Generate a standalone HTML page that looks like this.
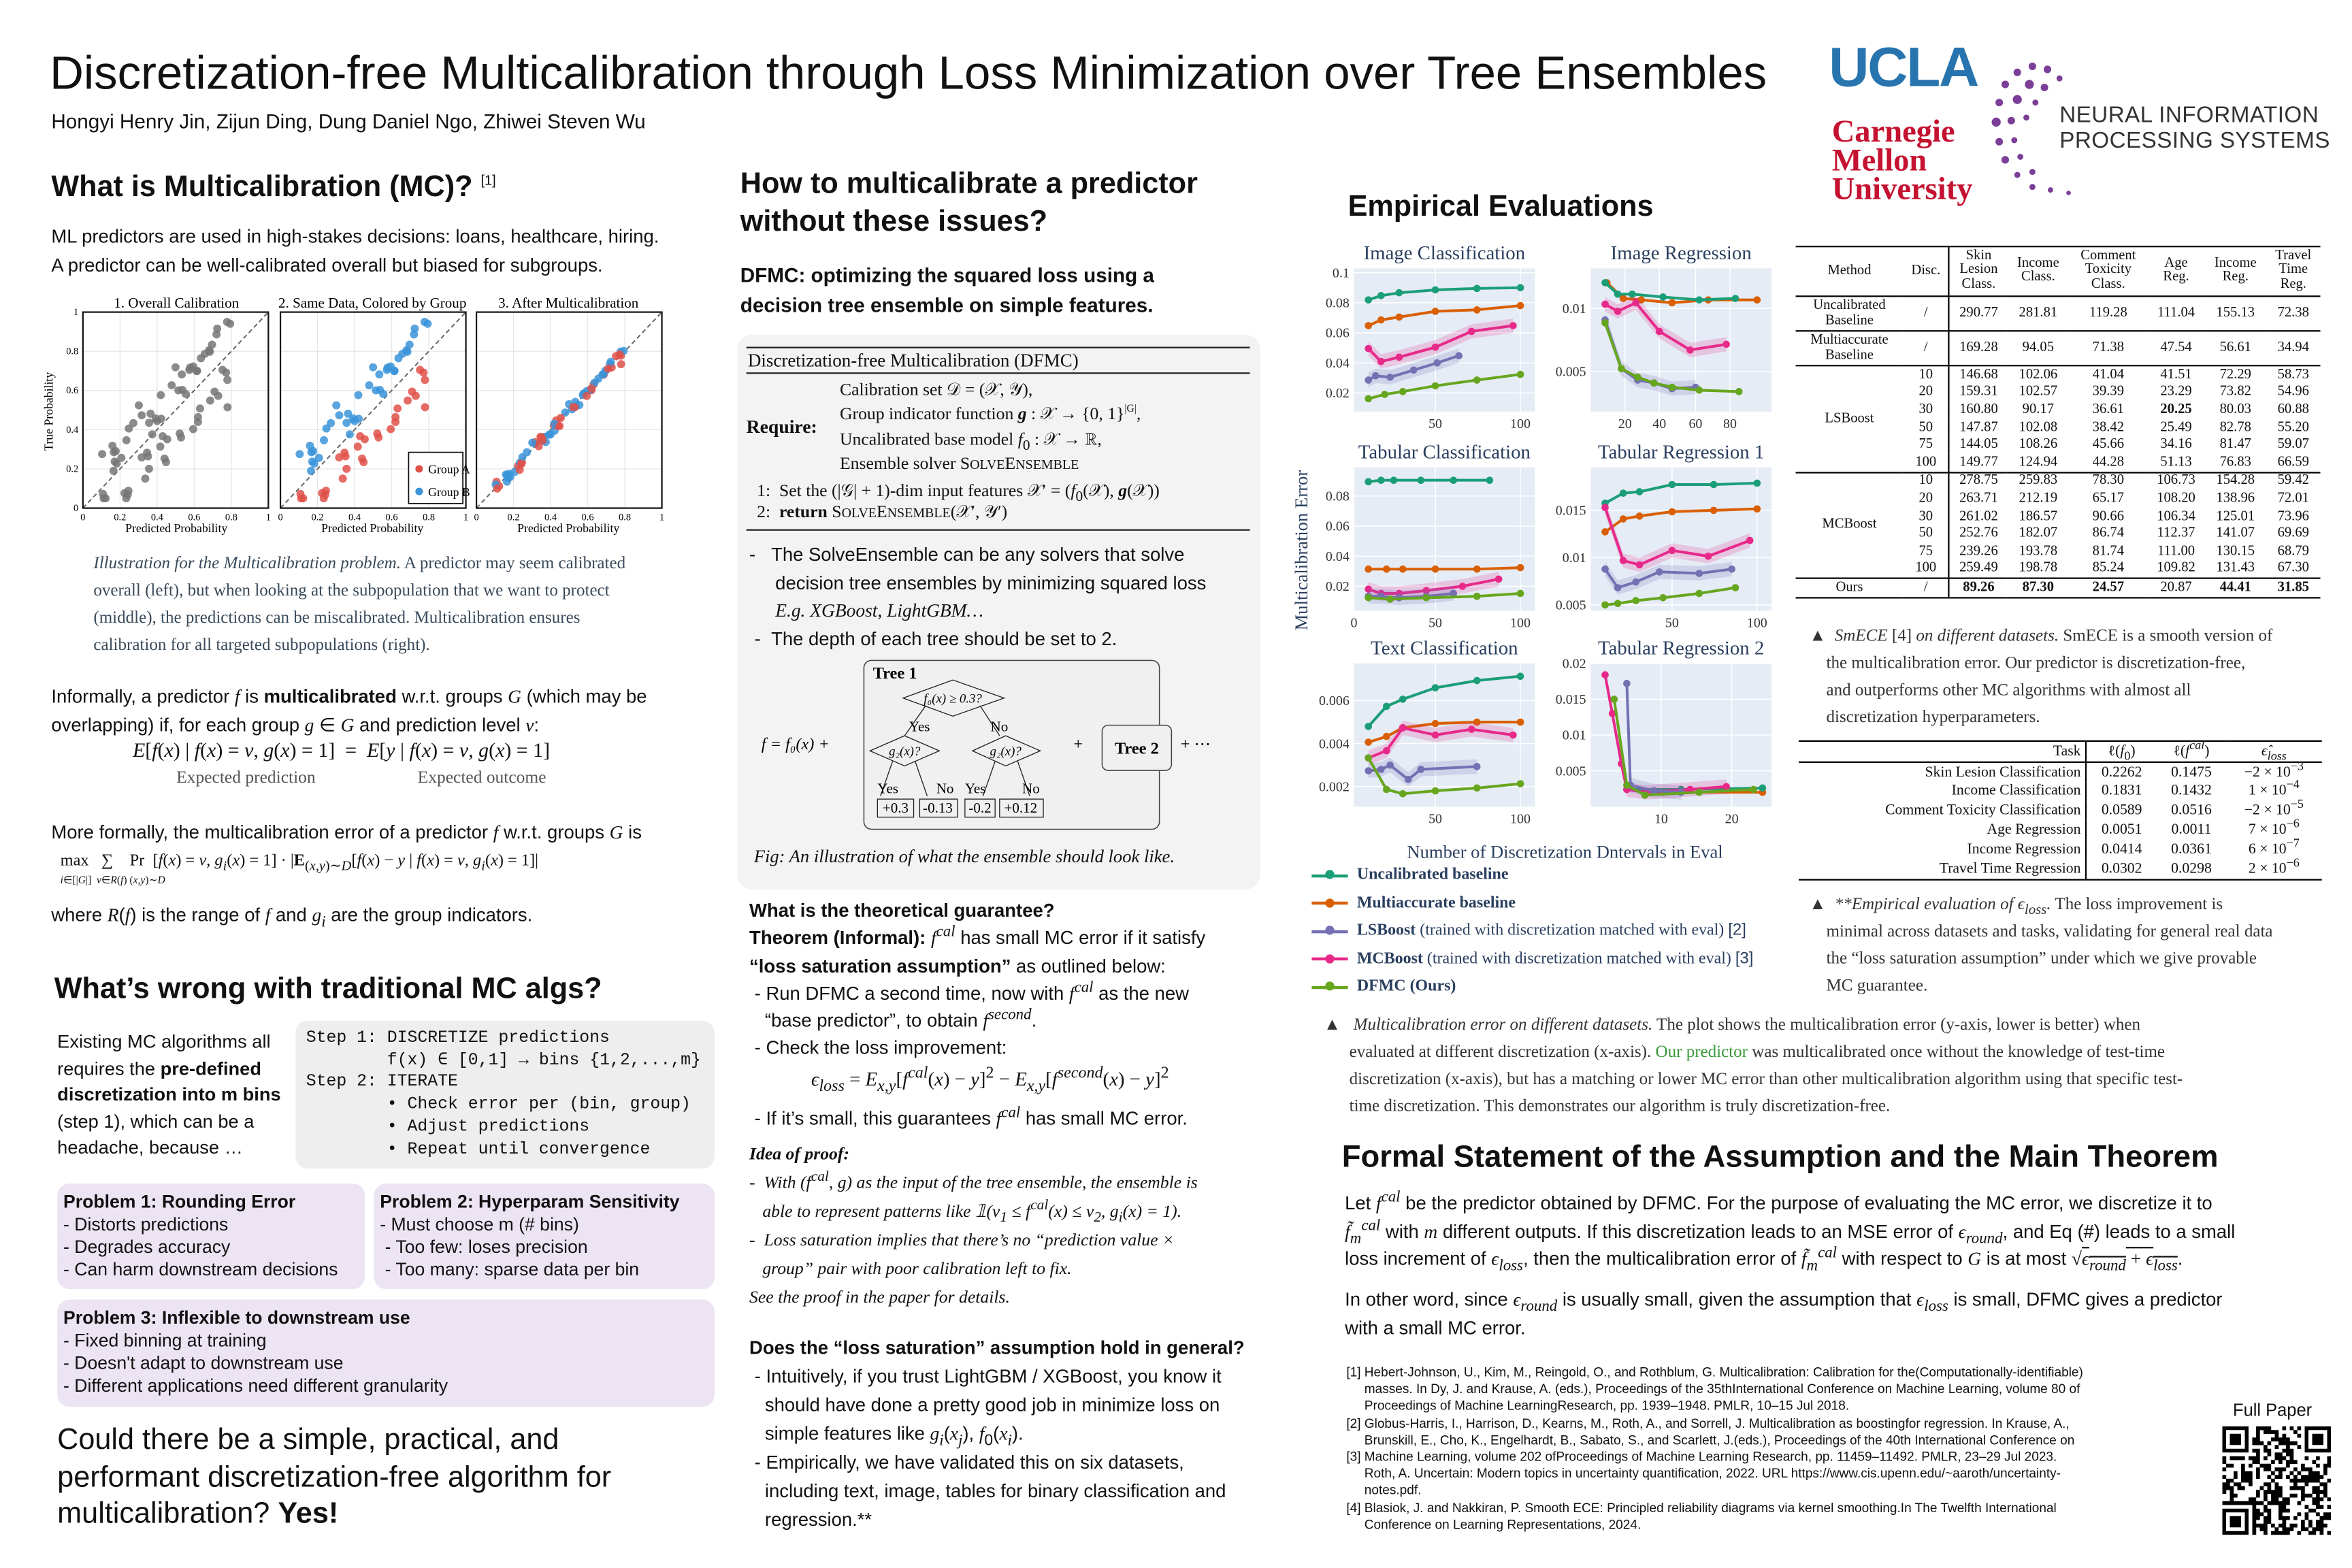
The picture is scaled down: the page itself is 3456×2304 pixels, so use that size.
<!DOCTYPE html>
<html><head><meta charset="utf-8">
<style>
html,body{margin:0;padding:0;background:#fff;}
body{width:3456px;height:2304px;overflow:hidden;}
#p{position:absolute;left:0;top:0;width:1560px;height:1040px;transform:scale(2.2154);transform-origin:0 0;font-family:"Liberation Sans",sans-serif;color:#111;}
.a{position:absolute;}
.s{font-family:"Liberation Serif",serif;}
sup,sub{line-height:0;}
h2{margin:0;font-size:19.5px;font-weight:bold;position:absolute;}
.t{font-size:12.4px;line-height:18.5px;}
.cap{font-family:"Liberation Serif",serif;font-size:11.3px;line-height:18px;color:#3a4a5a;}
.box{position:absolute;background:#ece4f3;border-radius:8px;font-size:12px;line-height:15px;padding:5px 4px;box-sizing:border-box;}
table{border-collapse:collapse;font-family:"Liberation Serif",serif;}
.t1 td{font-size:9.3px;padding:0 2px;height:11.6px;text-align:center;white-space:nowrap;}
.t2 td{font-size:9.8px;padding:0 3px;height:12.8px;white-space:nowrap;}
.ref{font-size:8.6px;line-height:11.2px;}
</style></head><body><div id="p">

<div class="a" style="left:33px;top:31px;font-size:31.1px;">Discretization-free Multicalibration through Loss Minimization over Tree Ensembles</div>
<div class="a" style="left:34px;top:73px;font-size:13.4px;">Hongyi Henry Jin, Zijun Ding, Dung Daniel Ngo, Zhiwei Steven Wu</div>

<!-- logos -->
<div class="a" style="left:1213px;top:24px;font-size:37px;font-weight:bold;color:#2774ae;letter-spacing:-1px;">UCLA</div>
<div class="a s" style="left:1215px;top:78px;font-size:21px;font-weight:bold;color:#c41230;line-height:19px;">Carnegie<br>Mellon<br>University</div>
<svg class="a" style="left:1318px;top:36px" width="60" height="100">
<g fill="#7b3f98">
<circle cx="30" cy="8" r="2.5"/><circle cx="40" cy="10" r="2.5"/><circle cx="20" cy="12" r="2.5"/><circle cx="48" cy="16" r="2"/><circle cx="12" cy="20" r="2.5"/><circle cx="28" cy="20" r="3"/><circle cx="38" cy="22" r="2.5"/><circle cx="8" cy="32" r="2.5"/><circle cx="20" cy="30" r="3"/><circle cx="32" cy="32" r="2"/><circle cx="6" cy="45" r="3"/><circle cx="16" cy="44" r="2.5"/><circle cx="26" cy="42" r="2"/><circle cx="8" cy="58" r="2.5"/><circle cx="18" cy="57" r="2"/><circle cx="12" cy="70" r="2.5"/><circle cx="22" cy="68" r="2"/><circle cx="20" cy="80" r="2"/><circle cx="30" cy="78" r="2"/><circle cx="30" cy="88" r="2"/><circle cx="42" cy="90" r="1.8"/><circle cx="54" cy="92" r="1.5"/>
</g></svg>
<div class="a" style="left:1366px;top:68px;font-size:15px;line-height:17px;color:#333;letter-spacing:0.2px;">NEURAL INFORMATION<br>PROCESSING SYSTEMS</div>

<!-- ===== Column 1 ===== -->
<h2 style="left:34px;top:113px;">What is Multicalibration (MC)? <sup style="font-size:9px;font-weight:normal">[1]</sup></h2>
<div class="a t" style="left:34px;top:148px;width:450px;">ML predictors are used in high-stakes decisions: loans, healthcare, hiring.<br>A predictor can be well-calibrated overall but biased for subgroups.</div>

<svg class="a" style="left:25px;top:193px" width="445" height="165" id="sc" font-family="Liberation Serif, serif">
<g font-size="9.5" text-anchor="middle">
<text x="92" y="11">1. Overall Calibration</text>
<text x="222" y="11">2. Same Data, Colored by Group</text>
<text x="352" y="11">3. After Multicalibration</text>
<text x="92" y="160" font-size="8">Predicted Probability</text>
<text x="222" y="160" font-size="8">Predicted Probability</text>
<text x="352" y="160" font-size="8">Predicted Probability</text>
<text transform="translate(10,80) rotate(-90)" font-size="8">True Probability</text>
</g>
</svg>

<div class="a cap" style="left:62px;top:365px;width:365px;"><i>Illustration for the Multicalibration problem.</i> A predictor may seem calibrated overall (left), but when looking at the subpopulation that we want to protect (middle), the predictions can be miscalibrated. Multicalibration ensures calibration for all targeted subpopulations (right).</div>

<div class="a t" style="left:34px;top:453px;width:440px;">Informally, a predictor <i class="s">f</i> is <b>multicalibrated</b> w.r.t. groups <i class="s">G</i> (which may be overlapping) if, for each group <i class="s">g</i> ∈ <i class="s">G</i> and prediction level <i class="s">v</i>:</div>
<div class="a s" style="left:88px;top:490px;font-size:13.5px;"><i>E</i>[<i>f</i>(<i>x</i>) | <i>f</i>(<i>x</i>) = <i>v</i>, <i>g</i>(<i>x</i>) = 1] &nbsp;= &nbsp;<i>E</i>[<i>y</i> | <i>f</i>(<i>x</i>) = <i>v</i>, <i>g</i>(<i>x</i>) = 1]</div>
<div class="a s" style="left:117px;top:510px;font-size:11.5px;color:#555;">Expected prediction</div>
<div class="a s" style="left:277px;top:510px;font-size:11.5px;color:#555;">Expected outcome</div>
<div class="a t" style="left:34px;top:543px;">More formally, the multicalibration error of a predictor <i class="s">f</i> w.r.t. groups <i class="s">G</i> is</div>
<div class="a s" style="left:40px;top:565px;font-size:11px;">max &nbsp;&nbsp;∑ &nbsp;&nbsp; Pr &nbsp;[<i>f</i>(<i>x</i>) = <i>v</i>, <i>g<sub>i</sub></i>(<i>x</i>) = 1] · |<b>E</b><sub>(<i>x,y</i>)∼<i>D</i></sub>[<i>f</i>(<i>x</i>) − <i>y</i> | <i>f</i>(<i>x</i>) = <i>v</i>, <i>g<sub>i</sub></i>(<i>x</i>) = 1]|</div>
<div class="a s" style="left:40px;top:580px;font-size:7px;"><i>i</i>∈[|<i>G</i>|] &nbsp;<i>v</i>∈<i>R</i>(<i>f</i>) (<i>x,y</i>)∼<i>D</i></div>
<div class="a t" style="left:34px;top:598px;">where <i class="s">R</i>(<i class="s">f</i>) is the range of <i class="s">f</i> and <i class="s">g<sub>i</sub></i> are the group indicators.</div>

<h2 style="left:36px;top:645px;">What’s wrong with traditional MC algs?</h2>
<div class="a" style="left:38px;top:683px;font-size:12.3px;line-height:17.5px;width:155px;">Existing MC algorithms all requires the <b>pre-defined discretization into m bins</b> (step 1), which can be a headache, because …</div>
<div class="a" style="left:196px;top:677px;width:278px;height:98px;background:#eeeeee;border-radius:8px;"></div>
<pre class="a" style="left:203px;top:682px;margin:0;font-family:'Liberation Mono',monospace;font-size:11.2px;line-height:14.7px;">Step 1: DISCRETIZE predictions
        f(x) ∈ [0,1] → bins {1,2,...,m}
Step 2: ITERATE
        • Check error per (bin, group)
        • Adjust predictions
        • Repeat until convergence</pre>
<div class="box" style="left:38px;top:785px;width:204px;height:70px;"><b>Problem 1: Rounding Error</b><br>- Distorts predictions<br>- Degrades accuracy<br>- Can harm downstream decisions</div>
<div class="box" style="left:248px;top:785px;width:226px;height:70px;"><b>Problem 2: Hyperparam Sensitivity</b><br>- Must choose m (# bins)<br>&nbsp;- Too few: loses precision<br>&nbsp;- Too many: sparse data per bin</div>
<div class="box" style="left:38px;top:862px;width:436px;height:71px;"><b>Problem 3: Inflexible to downstream use</b><br>- Fixed binning at training<br>- Doesn't adapt to downstream use<br>- Different applications need different granularity</div>
<div class="a" style="left:38px;top:943px;font-size:19.5px;line-height:24.5px;width:460px;">Could there be a simple, practical, and<br>performant discretization-free algorithm for<br>multicalibration? <b>Yes!</b></div>

<!-- ===== Column 2 ===== -->
<h2 style="left:491px;top:110px;line-height:25px;">How to multicalibrate a predictor<br>without these issues?</h2>
<div class="a" style="left:491px;top:173px;font-size:13.4px;line-height:20px;font-weight:bold;">DFMC: optimizing the squared loss using a<br>decision tree ensemble on simple features.</div>
<div class="a" style="left:489px;top:222px;width:347px;height:368px;background:#f3f3f3;border-radius:10px;"></div>
<div class="a" style="left:495px;top:230px;width:334px;border-top:1.2px solid #222;border-bottom:0.8px solid #222;height:16px;"></div>
<div class="a s" style="left:496px;top:232px;font-size:12.2px;">Discretization-free Multicalibration (DFMC)</div>
<div class="a s" style="left:495px;top:276px;font-size:12.5px;font-weight:bold;">Require:</div>
<div class="a s" style="left:557px;top:251px;font-size:11.6px;line-height:16.3px;">Calibration set 𝒟 = (𝒳, 𝒴),<br>Group indicator function <b><i>g</i></b> : 𝒳 → {0, 1}<sup style="font-size:7px">|G|</sup>,<br>Uncalibrated base model <i>f</i><sub>0</sub> : 𝒳 → ℝ,<br>Ensemble solver S<span style="font-size:9px">OLVE</span>E<span style="font-size:9px">NSEMBLE</span></div>
<div class="a s" style="left:502px;top:319px;font-size:11.6px;line-height:14px;">1: &nbsp;Set the (|𝒢| + 1)-dim input features 𝒳′ = (<i>f</i><sub>0</sub>(𝒳), <b><i>g</i></b>(𝒳))<br>2: &nbsp;<b>return</b> S<span style="font-size:9px">OLVE</span>E<span style="font-size:9px">NSEMBLE</span>(𝒳′, 𝒴′)</div>
<div class="a" style="left:495px;top:351px;width:334px;border-top:0.8px solid #222;"></div>
<div class="a" style="left:497px;top:359px;font-size:12.4px;line-height:18.5px;width:330px;">-&nbsp;&nbsp;&nbsp;The SolveEnsemble can be any solvers that solve<br>&nbsp;&nbsp;&nbsp;&nbsp;&nbsp;decision tree ensembles by minimizing squared loss<br>&nbsp;&nbsp;&nbsp;&nbsp;&nbsp;<i class="s">E.g. XGBoost, LightGBM…</i><br>&nbsp;-&nbsp;&nbsp;The depth of each tree should be set to 2.</div>
<svg class="a" style="left:495px;top:435px" width="340" height="120" font-family="Liberation Serif, serif" font-size="9.5">
<rect x="78" y="3" width="196" height="112" rx="5" fill="#f0f0f0" stroke="#444" stroke-width="0.7"/>
<text x="84" y="15" font-weight="bold" font-size="11">Tree 1</text>
<polygon points="104,28 137,16 171,28 137,40" fill="none" stroke="#222" stroke-width="0.6"/>
<text x="137" y="31" text-anchor="middle" font-style="italic" font-size="8.5">f₀(x) ≥ 0.3?</text>
<line x1="119" y1="33" x2="105" y2="53" stroke="#222" stroke-width="0.6"/><line x1="155" y1="33" x2="168" y2="53" stroke="#222" stroke-width="0.6"/>
<text x="108" y="50">Yes</text><text x="162" y="50">No</text>
<polygon points="82,63 105,53 128,63 105,73" fill="none" stroke="#222" stroke-width="0.6"/>
<polygon points="150,63 172,53 195,63 172,73" fill="none" stroke="#222" stroke-width="0.6"/>
<text x="105" y="66" text-anchor="middle" font-style="italic" font-size="8.5">g₂(x)?</text>
<text x="172" y="66" text-anchor="middle" font-style="italic" font-size="8.5">g₂(x)?</text>
<line x1="97" y1="70" x2="89" y2="93" stroke="#222" stroke-width="0.6"/><line x1="112" y1="70" x2="120" y2="93" stroke="#222" stroke-width="0.6"/>
<line x1="165" y1="70" x2="157" y2="93" stroke="#222" stroke-width="0.6"/><line x1="180" y1="70" x2="188" y2="93" stroke="#222" stroke-width="0.6"/>
<text x="87" y="91">Yes</text><text x="126" y="91">No</text><text x="145" y="91">Yes</text><text x="183" y="91">No</text>
<rect x="87" y="95" width="24" height="12" fill="none" stroke="#222" stroke-width="0.6"/><text x="99" y="104" text-anchor="middle">+0.3</text>
<rect x="115" y="95" width="25" height="12" fill="none" stroke="#222" stroke-width="0.6"/><text x="127" y="104" text-anchor="middle">-0.13</text>
<rect x="145" y="95" width="20" height="12" fill="none" stroke="#222" stroke-width="0.6"/><text x="155" y="104" text-anchor="middle">-0.2</text>
<rect x="168" y="95" width="29" height="12" fill="none" stroke="#222" stroke-width="0.6"/><text x="182" y="104" text-anchor="middle">+0.12</text>
<text x="10" y="62" font-size="11" font-style="italic">f = f₀(x) +</text>
<text x="217" y="62" font-size="11">+</text>
<rect x="236" y="46" width="46" height="30" rx="4" fill="#f0f0f0" stroke="#444" stroke-width="0.7"/>
<text x="259" y="65" text-anchor="middle" font-weight="bold" font-size="11">Tree 2</text>
<text x="288" y="62" font-size="11">+ ⋯</text>
</svg>
<div class="a s" style="left:500px;top:561px;font-size:12px;font-style:italic;">Fig: An illustration of what the ensemble should look like.</div>

<div class="a" style="left:497px;top:595px;font-size:12.4px;line-height:18.3px;width:360px;white-space:nowrap;">
<b>What is the theoretical guarantee?</b><br>
<b>Theorem (Informal):</b> <i class="s">f<sup>cal</sup></i> has small MC error if it satisfy<br><b>“loss saturation assumption”</b> as outlined below:<br>
&nbsp;- Run DFMC a second time, now with <i class="s">f<sup>cal</sup></i> as the new<br>&nbsp;&nbsp;&nbsp;“base predictor”, to obtain <i class="s">f<sup>second</sup></i>.<br>
&nbsp;- Check the loss improvement:</div>
<div class="a s" style="left:538px;top:708px;font-size:13px;"><i>ϵ<sub>loss</sub></i> = <i>E<sub>x,y</sub></i>[<i>f<sup>cal</sup></i>(<i>x</i>) − <i>y</i>]<sup>2</sup> − <i>E<sub>x,y</sub></i>[<i>f<sup>second</sup></i>(<i>x</i>) − <i>y</i>]<sup>2</sup></div>
<div class="a" style="left:497px;top:735px;font-size:12.4px;">&nbsp;- If it’s small, this guarantees <i class="s">f<sup>cal</sup></i> has small MC error.</div>
<div class="a s" style="left:497px;top:756px;font-size:11.6px;line-height:19px;width:360px;font-style:italic;white-space:nowrap;"><b>Idea of proof:</b><br>-&nbsp;&nbsp;With (<i>f<sup>cal</sup></i>, <i>g</i>) as the input of the tree ensemble, the ensemble is<br>&nbsp;&nbsp;&nbsp;able to represent patterns like 𝟙(<i>v</i><sub>1</sub> ≤ <i>f<sup>cal</sup></i>(<i>x</i>) ≤ <i>v</i><sub>2</sub>, <i>g<sub>i</sub></i>(<i>x</i>) = 1).<br>-&nbsp;&nbsp;Loss saturation implies that there’s no “prediction value ×<br>&nbsp;&nbsp;&nbsp;group” pair with poor calibration left to fix.<br>See the proof in the paper for details.</div>
<div class="a" style="left:497px;top:885px;font-size:12.4px;line-height:19px;width:360px;white-space:nowrap;"><b>Does the “loss saturation” assumption hold in general?</b><br>&nbsp;- Intuitively, if you trust LightGBM / XGBoost, you know it<br>&nbsp;&nbsp;&nbsp;should have done a pretty good job in minimize loss on<br>&nbsp;&nbsp;&nbsp;simple features like <i class="s">g<sub>i</sub></i>(<i class="s">x<sub>j</sub></i>), <i class="s">f</i><sub>0</sub>(<i class="s">x<sub>i</sub></i>).<br>&nbsp;- Empirically, we have validated this on six datasets,<br>&nbsp;&nbsp;&nbsp;including text, image, tables for binary classification and<br>&nbsp;&nbsp;&nbsp;regression.**</div>

<!-- ===== Column 3 ===== -->
<h2 style="left:894px;top:126px;">Empirical Evaluations</h2>
<svg class="a" style="left:850px;top:155px" width="340" height="420" id="lp" font-family="Liberation Serif, serif"></svg>

<div class="a" style="left:870px;top:571px;font-family:'Liberation Serif',serif;font-size:10.8px;line-height:18.5px;" id="leg"></div>

<table class="a t1" style="left:1191px;top:163px;width:348px;border-top:1px solid #000;border-bottom:1.5px double #000;">
<tr style="border-bottom:0.8px solid #000;"><td style="height:32px">Method</td><td style="border-right:0.6px solid #000">Disc.</td><td style="line-height:9.5px">Skin<br>Lesion<br>Class.</td><td style="line-height:9.5px">Income<br>Class.</td><td style="line-height:9.5px">Comment<br>Toxicity<br>Class.</td><td style="line-height:9.5px">Age<br>Reg.</td><td style="line-height:9.5px">Income<br>Reg.</td><td style="line-height:9.5px">Travel<br>Time<br>Reg.</td></tr>
<tr style="border-bottom:0.6px solid #000;"><td style="height:22px;line-height:10px">Uncalibrated<br>Baseline</td><td style="border-right:0.6px solid #000">/</td><td>290.77</td><td>281.81</td><td>119.28</td><td>111.04</td><td>155.13</td><td>72.38</td></tr>
<tr style="border-bottom:0.6px solid #000;"><td style="height:22px;line-height:10px">Multiaccurate<br>Baseline</td><td style="border-right:0.6px solid #000">/</td><td>169.28</td><td>94.05</td><td>71.38</td><td>47.54</td><td>56.61</td><td>34.94</td></tr>
<tr><td rowspan="6">LSBoost</td><td style="border-right:0.6px solid #000">10</td><td>146.68</td><td>102.06</td><td>41.04</td><td>41.51</td><td>72.29</td><td>58.73</td></tr>
<tr><td style="border-right:0.6px solid #000">20</td><td>159.31</td><td>102.57</td><td>39.39</td><td>23.29</td><td>73.82</td><td>54.96</td></tr>
<tr><td style="border-right:0.6px solid #000">30</td><td>160.80</td><td>90.17</td><td>36.61</td><td><b>20.25</b></td><td>80.03</td><td>60.88</td></tr>
<tr><td style="border-right:0.6px solid #000">50</td><td>147.87</td><td>102.08</td><td>38.42</td><td>25.49</td><td>82.78</td><td>55.20</td></tr>
<tr><td style="border-right:0.6px solid #000">75</td><td>144.05</td><td>108.26</td><td>45.66</td><td>34.16</td><td>81.47</td><td>59.07</td></tr>
<tr style="border-bottom:0.6px solid #000;"><td style="border-right:0.6px solid #000">100</td><td>149.77</td><td>124.94</td><td>44.28</td><td>51.13</td><td>76.83</td><td>66.59</td></tr>
<tr><td rowspan="6">MCBoost</td><td style="border-right:0.6px solid #000">10</td><td>278.75</td><td>259.83</td><td>78.30</td><td>106.73</td><td>154.28</td><td>59.42</td></tr>
<tr><td style="border-right:0.6px solid #000">20</td><td>263.71</td><td>212.19</td><td>65.17</td><td>108.20</td><td>138.96</td><td>72.01</td></tr>
<tr><td style="border-right:0.6px solid #000">30</td><td>261.02</td><td>186.57</td><td>90.66</td><td>106.34</td><td>125.01</td><td>73.96</td></tr>
<tr><td style="border-right:0.6px solid #000">50</td><td>252.76</td><td>182.07</td><td>86.74</td><td>112.37</td><td>141.07</td><td>69.69</td></tr>
<tr><td style="border-right:0.6px solid #000">75</td><td>239.26</td><td>193.78</td><td>81.74</td><td>111.00</td><td>130.15</td><td>68.79</td></tr>
<tr style="border-bottom:0.8px solid #000;"><td style="border-right:0.6px solid #000">100</td><td>259.49</td><td>198.78</td><td>85.24</td><td>109.82</td><td>131.43</td><td>67.30</td></tr>
<tr><td>Ours</td><td style="border-right:0.6px solid #000">/</td><td><b>89.26</b></td><td><b>87.30</b></td><td><b>24.57</b></td><td>20.87</td><td><b>44.41</b></td><td><b>31.85</b></td></tr>
</table>
<div class="a cap" style="left:1200px;top:413px;width:355px;color:#333;white-space:nowrap;">▲ &nbsp;<i>SmECE</i> [4] <i>on different datasets.</i> SmECE is a smooth version of<br>&nbsp;&nbsp;&nbsp;&nbsp;the multicalibration error. Our predictor is discretization-free,<br>&nbsp;&nbsp;&nbsp;&nbsp;and outperforms other MC algorithms with almost all<br>&nbsp;&nbsp;&nbsp;&nbsp;discretization hyperparameters.</div>
<table class="a t2" style="left:1193px;top:491px;width:347px;border-top:0.8px solid #000;border-bottom:0.8px solid #000;">
<tr style="border-bottom:0.8px solid #000;"><td style="text-align:right;border-right:0.6px solid #000">Task</td><td style="text-align:center">ℓ(<i>f</i><sub>0</sub>)</td><td style="text-align:center">ℓ(<i>f<sup>cal</sup></i>)</td><td style="text-align:center"><i>ϵ̂<sub>loss</sub></i></td></tr>
<tr><td style="text-align:right;border-right:0.6px solid #000">Skin Lesion Classification</td><td align="center">0.2262</td><td align="center">0.1475</td><td align="center">−2 × 10<sup>−3</sup></td></tr>
<tr><td style="text-align:right;border-right:0.6px solid #000">Income Classification</td><td align="center">0.1831</td><td align="center">0.1432</td><td align="center">1 × 10<sup>−4</sup></td></tr>
<tr><td style="text-align:right;border-right:0.6px solid #000">Comment Toxicity Classification</td><td align="center">0.0589</td><td align="center">0.0516</td><td align="center">−2 × 10<sup>−5</sup></td></tr>
<tr><td style="text-align:right;border-right:0.6px solid #000">Age Regression</td><td align="center">0.0051</td><td align="center">0.0011</td><td align="center">7 × 10<sup>−6</sup></td></tr>
<tr><td style="text-align:right;border-right:0.6px solid #000">Income Regression</td><td align="center">0.0414</td><td align="center">0.0361</td><td align="center">6 × 10<sup>−7</sup></td></tr>
<tr><td style="text-align:right;border-right:0.6px solid #000">Travel Time Regression</td><td align="center">0.0302</td><td align="center">0.0298</td><td align="center">2 × 10<sup>−6</sup></td></tr>
</table>
<div class="a cap" style="left:1200px;top:591px;width:355px;color:#333;white-space:nowrap;">▲ &nbsp;<i>**Empirical evaluation of ϵ<sub>loss</sub>.</i> The loss improvement is<br>&nbsp;&nbsp;&nbsp;&nbsp;minimal across datasets and tasks, validating for general real data<br>&nbsp;&nbsp;&nbsp;&nbsp;the “loss saturation assumption” under which we give provable<br>&nbsp;&nbsp;&nbsp;&nbsp;MC guarantee.</div>
<div class="a cap" style="left:878px;top:671px;width:670px;color:#333;white-space:nowrap;">▲ &nbsp;&nbsp;<i>Multicalibration error on different datasets.</i> The plot shows the multicalibration error (y-axis, lower is better) when<br>&nbsp;&nbsp;&nbsp;&nbsp;&nbsp;&nbsp;evaluated at different discretization (x-axis). <span style="color:#3a9a3a">Our predictor</span> was multicalibrated once without the knowledge of test-time<br>&nbsp;&nbsp;&nbsp;&nbsp;&nbsp;&nbsp;discretization (x-axis), but has a matching or lower MC error than other multicalibration algorithm using that specific test-<br>&nbsp;&nbsp;&nbsp;&nbsp;&nbsp;&nbsp;time discretization. This demonstrates our algorithm is truly discretization-free.</div>

<h2 style="left:890px;top:756px;font-size:20.5px;">Formal Statement of the Assumption and the Main Theorem</h2>
<div class="a t" style="left:892px;top:789px;width:660px;white-space:nowrap;">Let <i class="s">f<sup>cal</sup></i> be the predictor obtained by DFMC. For the purpose of evaluating the MC error, we discretize it to<br><i class="s">f̃<sub>m</sub><sup>cal</sup></i> with <i class="s">m</i> different outputs. If this discretization leads to an MSE error of <i class="s">ϵ<sub>round</sub></i>, and Eq (#) leads to a small<br>loss increment of <i class="s">ϵ<sub>loss</sub></i>, then the multicalibration error of <i class="s">f̃<sub>m</sub><sup>cal</sup></i> with respect to <i class="s">G</i> is at most <span class="s">√<span style="text-decoration:overline"><i>ϵ<sub>round</sub></i> + <i>ϵ<sub>loss</sub></i></span></span>.</div>
<div class="a t" style="left:892px;top:853px;width:660px;white-space:nowrap;">In other word, since <i class="s">ϵ<sub>round</sub></i> is usually small, given the assumption that <i class="s">ϵ<sub>loss</sub></i> is small, DFMC gives a predictor<br>with a small MC error.</div>
<div class="a ref" style="left:893px;top:905px;width:565px;">
<div>[1] Hebert-Johnson, U., Kim, M., Reingold, O., and Rothblum, G. Multicalibration: Calibration for the(Computationally-identifiable)<br>&nbsp;&nbsp;&nbsp;&nbsp;&nbsp;masses. In Dy, J. and Krause, A. (eds.), Proceedings of the 35thInternational Conference on Machine Learning, volume 80 of<br>&nbsp;&nbsp;&nbsp;&nbsp;&nbsp;Proceedings of Machine LearningResearch, pp. 1939–1948. PMLR, 10–15 Jul 2018.</div>
<div>[2] Globus-Harris, I., Harrison, D., Kearns, M., Roth, A., and Sorrell, J. Multicalibration as boostingfor regression. In Krause, A.,<br>&nbsp;&nbsp;&nbsp;&nbsp;&nbsp;Brunskill, E., Cho, K., Engelhardt, B., Sabato, S., and Scarlett, J.(eds.), Proceedings of the 40th International Conference on</div>
<div>[3] Machine Learning, volume 202 ofProceedings of Machine Learning Research, pp. 11459–11492. PMLR, 23–29 Jul 2023.<br>&nbsp;&nbsp;&nbsp;&nbsp;&nbsp;Roth, A. Uncertain: Modern topics in uncertainty quantification, 2022. URL https://www.cis.upenn.edu/~aaroth/uncertainty-<br>&nbsp;&nbsp;&nbsp;&nbsp;&nbsp;notes.pdf.</div>
<div>[4] Blasiok, J. and Nakkiran, P. Smooth ECE: Principled reliability diagrams via kernel smoothing.In The Twelfth International<br>&nbsp;&nbsp;&nbsp;&nbsp;&nbsp;Conference on Learning Representations, 2024.</div>
</div>
<div class="a" style="left:1481px;top:930px;font-size:11.5px;">Full Paper</div>
<svg class="a" style="left:1474px;top:946px" width="72" height="72" id="qr"></svg>

<script>
var NS="http://www.w3.org/2000/svg";
function el(p,t,a,txt){var e=document.createElementNS(NS,t);for(var k in a)e.setAttribute(k,a[k]);if(txt!==undefined)e.textContent=txt;p.appendChild(e);return e;}
var seed=7;function R(){seed=(seed*9301+49297)%233280;return seed/233280;}
function G(){return (R()+R()+R()-1.5)/1.5;}
var sc=document.getElementById('sc');
var bx=[30,161,291],W=123,H=130,T=14;
for(var b=0;b<3;b++){
 var x0=bx[b];
 var g=el(sc,'g',{});
 for(var i=1;i<5;i++){el(g,'line',{x1:x0+W*i/5,y1:T,x2:x0+W*i/5,y2:T+H,stroke:'#e6e6e6','stroke-width':0.6});el(g,'line',{x1:x0,y1:T+H*i/5,x2:x0+W,y2:T+H*i/5,stroke:'#e6e6e6','stroke-width':0.6});}
 el(g,'line',{x1:x0,y1:T+H,x2:x0+W,y2:T,stroke:'#666','stroke-width':0.9,'stroke-dasharray':'3,2'});
 el(g,'rect',{x:x0,y:T,width:W,height:H,fill:'none',stroke:'#111','stroke-width':1});
 var labs=['0','0.2','0.4','0.6','0.8','1'];
 for(var i=0;i<6;i++){el(g,'text',{x:x0+W*i/5,y:T+H+8,'font-size':6.5,'text-anchor':'middle'},labs[i]);}
 if(b==0)for(var i=0;i<6;i++){el(g,'text',{x:x0-3,y:T+H-H*i/5+2,'font-size':6.5,'text-anchor':'end'},labs[i]);}
 seed=11;
 for(var i=0;i<70;i++){
  var p=0.1+R()*0.7,grp=R()<0.5;
  var t;
  var n1=G();
  if(b==2){t=p+n1*0.05;}else{t=p+(grp?-0.12:0.12)+n1*0.16;}
  t=Math.max(0.05,Math.min(0.95,t));
  var c=b==0?'#777':(grp?'#e0514a':'#3b94d9');
  el(g,'circle',{cx:x0+W*p,cy:T+H*(1-t),r:2.7,fill:c,'fill-opacity':0.85});
 }
 if(b==1){el(g,'rect',{x:x0+85,y:T+93,width:36,height:34,fill:'#fff',stroke:'#111','stroke-width':0.8});
  el(g,'circle',{cx:x0+92,cy:T+104,r:2.5,fill:'#e0514a'});el(g,'text',{x:x0+98,y:T+107,'font-size':8},'Group A');
  el(g,'circle',{cx:x0+92,cy:T+119,r:2.5,fill:'#3b94d9'});el(g,'text',{x:x0+98,y:T+122,'font-size':8},'Group B');}
}
var lp=document.getElementById('lp');
var C={g:'#1b9e77',o:'#d95f02',p:'#7570b3',k:'#e7298a',l:'#66a61e'};
var plots=[
 {x:48,y:23,t:'Image Classification',yt:[['0.1',0.03],['0.08',0.24],['0.06',0.45],['0.04',0.66],['0.02',0.87]],xt:[['50',0.45],['100',0.92]],
  s:{g:[[.08,.22],[.15,.19],[.25,.17],[.45,.15],[.68,.14],[.92,.135]],o:[[.08,.4],[.15,.36],[.25,.34],[.45,.3],[.68,.29],[.92,.26]],k:[[.08,.56],[.15,.65],[.25,.62],[.45,.55],[.65,.44],[.88,.4]],p:[[.08,.78],[.12,.75],[.2,.76],[.33,.71],[.46,.66],[.58,.61]],l:[[.08,.91],[.17,.88],[.27,.86],[.45,.82],[.68,.78],[.92,.74]]}},
 {x:205,y:23,t:'Image Regression',yt:[['0.01',0.28],['0.005',0.72]],xt:[['20',0.19],['40',0.38],['60',0.58],['80',0.77]],
  s:{g:[[.08,.1],[.15,.18],[.23,.18],[.4,.2],[.6,.22],[.8,.21]],o:[[.09,.1],[.18,.21],[.28,.22],[.45,.24],[.65,.22],[.92,.22]],k:[[.08,.25],[.15,.3],[.25,.24],[.38,.44],[.55,.57],[.75,.53]],p:[[.08,.36],[.17,.7],[.26,.78],[.35,.8],[.45,.84],[.58,.83]],l:[[.08,.38],[.17,.7],[.26,.76],[.35,.8],[.45,.83],[.6,.85],[.82,.86]]}},
 {x:48,y:155,t:'Tabular Classification',yt:[['0.08',0.2],['0.06',0.41],['0.04',0.62],['0.02',0.83]],xt:[['0',0],['50',0.45],['100',0.92]],
  s:{g:[[.08,.1],[.15,.09],[.22,.09],[.37,.09],[.55,.09],[.75,.09]],o:[[.08,.71],[.18,.71],[.27,.71],[.45,.71],[.68,.71],[.92,.7]],k:[[.08,.85],[.15,.88],[.25,.88],[.4,.86],[.6,.83],[.8,.78]],p:[[.08,.9],[.15,.9],[.25,.91],[.4,.9],[.55,.88]],l:[[.08,.91],[.2,.92],[.4,.91],[.68,.9],[.92,.88]]}},
 {x:205,y:155,t:'Tabular Regression 1',yt:[['0.015',0.3],['0.01',0.63],['0.005',0.96]],xt:[['50',0.45],['100',0.92]],
  s:{g:[[.08,.25],[.18,.18],[.27,.17],[.45,.12],[.68,.12],[.92,.11]],o:[[.08,.45],[.18,.36],[.27,.34],[.45,.31],[.68,.3],[.92,.29]],k:[[.08,.28],[.18,.65],[.27,.68],[.45,.58],[.65,.62],[.88,.51]],p:[[.08,.71],[.15,.84],[.25,.8],[.38,.73],[.6,.74],[.78,.71]],l:[[.08,.96],[.15,.95],[.25,.93],[.4,.91],[.6,.88],[.8,.84]]}},
 {x:48,y:285,t:'Text Classification',yt:[['0.006',0.26],['0.004',0.56],['0.002',0.86]],xt:[['50',0.45],['100',0.92]],
  s:{g:[[.08,.44],[.18,.3],[.27,.25],[.45,.17],[.68,.12],[.92,.09]],o:[[.08,.55],[.18,.51],[.27,.45],[.45,.42],[.68,.41],[.92,.41]],k:[[.08,.66],[.18,.61],[.27,.45],[.45,.5],[.65,.46],[.88,.5]],p:[[.08,.75],[.15,.74],[.2,.71],[.3,.81],[.37,.74],[.68,.72]],l:[[.08,.66],[.18,.88],[.27,.91],[.45,.89],[.68,.87],[.92,.84]]}},
 {x:205,y:285,t:'Tabular Regression 2',yt:[['0.02',0.0],['0.015',0.25],['0.01',0.5],['0.005',0.75]],xt:[['10',0.39],['20',0.78]],
  s:{o:[[.2,.88],[.4,.9],[.95,.9]],g:[[.2,.88],[.5,.88],[.95,.87]],k:[[.08,.08],[.12,.35],[.17,.7],[.2,.88],[.3,.9],[.55,.88],[.75,.86]],p:[[.2,.14],[.22,.85],[.35,.89],[.5,.9]],l:[[.13,.25],[.2,.85],[.3,.92],[.6,.9],[.9,.88]]}}
];
var PW=120,PH=95;
plots.forEach(function(P){
 var g=el(lp,'g',{transform:'translate('+P.x+','+P.y+')'});
 el(g,'rect',{x:0,y:0,width:PW,height:PH,fill:'#e5ecf6'});
 P.yt.forEach(function(t){var yy=t[1]*PH;el(g,'line',{x1:0,y1:yy,x2:PW,y2:yy,stroke:'#fff','stroke-width':0.7});el(g,'text',{x:-3,y:yy+3,'font-size':9,'text-anchor':'end',fill:'#333'},t[0]);});
 P.xt.forEach(function(t){var xx=t[1]*PW;el(g,'line',{x1:xx,y1:0,x2:xx,y2:PH,stroke:'#fff','stroke-width':0.7});el(g,'text',{x:xx,y:PH+11,'font-size':9,'text-anchor':'middle',fill:'#333'},t[0]);});
 el(g,'text',{x:PW/2,y:-6,'font-size':13,'text-anchor':'middle',fill:'#2a3f5f'},P.t);
 ['o','g','k','p','l'].forEach(function(k){var s=P.s[k];if(!s)return;
  var pts=s.map(function(q){return (q[0]*PW).toFixed(1)+','+(q[1]*PH).toFixed(1);}).join(' ');
  if(k=='k'||k=='p'){var up=s.map(function(q){return (q[0]*PW).toFixed(1)+','+((q[1]-0.05)*PH).toFixed(1);});var dn=s.slice().reverse().map(function(q){return (q[0]*PW).toFixed(1)+','+((q[1]+0.05)*PH).toFixed(1);});el(g,'polygon',{points:up.concat(dn).join(' '),fill:C[k],'fill-opacity':0.2});}
  el(g,'polyline',{points:pts,fill:'none',stroke:C[k],'stroke-width':1.8});
  s.forEach(function(q){el(g,'circle',{cx:q[0]*PW,cy:q[1]*PH,r:2.4,fill:C[k]});});
 });
});
el(lp,'text',{transform:'translate(17,210) rotate(-90)','font-size':12,'text-anchor':'middle',fill:'#2a3f5f'},'Multicalibration Error');
el(lp,'text',{x:188,y:414,'font-size':12,'text-anchor':'middle',fill:'#2a3f5f'},'Number of Discretization Dntervals in Eval');
var leg=document.getElementById('leg');
var items=[[C.g,'<b>Uncalibrated baseline</b>'],[C.o,'<b>Multiaccurate baseline</b>'],[C.p,'<b>LSBoost</b> (trained with discretization matched with eval) <span style="font-family:Liberation Sans">[2]</span>'],[C.k,'<b>MCBoost</b> (trained with discretization matched with eval) <span style="font-family:Liberation Sans">[3]</span>'],[C.l,'<b>DFMC (Ours)</b>']];
leg.innerHTML=items.map(function(it){return '<div style="color:#2a3f5f"><span style="display:inline-block;width:24px;height:2px;background:'+it[0]+';vertical-align:middle;margin-right:6px;position:relative"><span style="position:absolute;left:9px;top:-2.5px;width:6px;height:6px;border-radius:3px;background:'+it[0]+'"></span></span>'+it[1]+'</div>';}).join('');
var qr=document.getElementById('qr');seed=3;
el(qr,'rect',{x:0,y:0,width:72,height:72,fill:'#fff'});
var n=29,cs=72/n;
function fin(x,y){el(qr,'rect',{x:x*cs,y:y*cs,width:7*cs,height:7*cs,fill:'#000'});el(qr,'rect',{x:(x+1)*cs,y:(y+1)*cs,width:5*cs,height:5*cs,fill:'#fff'});el(qr,'rect',{x:(x+2)*cs,y:(y+2)*cs,width:3*cs,height:3*cs,fill:'#000'});}
for(var i=0;i<n;i++)for(var j=0;j<n;j++){if((i<8&&j<8)||(i>n-9&&j<8)||(i<8&&j>n-9))continue;if(R()<0.5)el(qr,'rect',{x:i*cs,y:j*cs,width:cs+0.1,height:cs+0.1,fill:'#000'});}
fin(0,0);fin(n-7,0);fin(0,n-7);
</script>
</div></body></html>
